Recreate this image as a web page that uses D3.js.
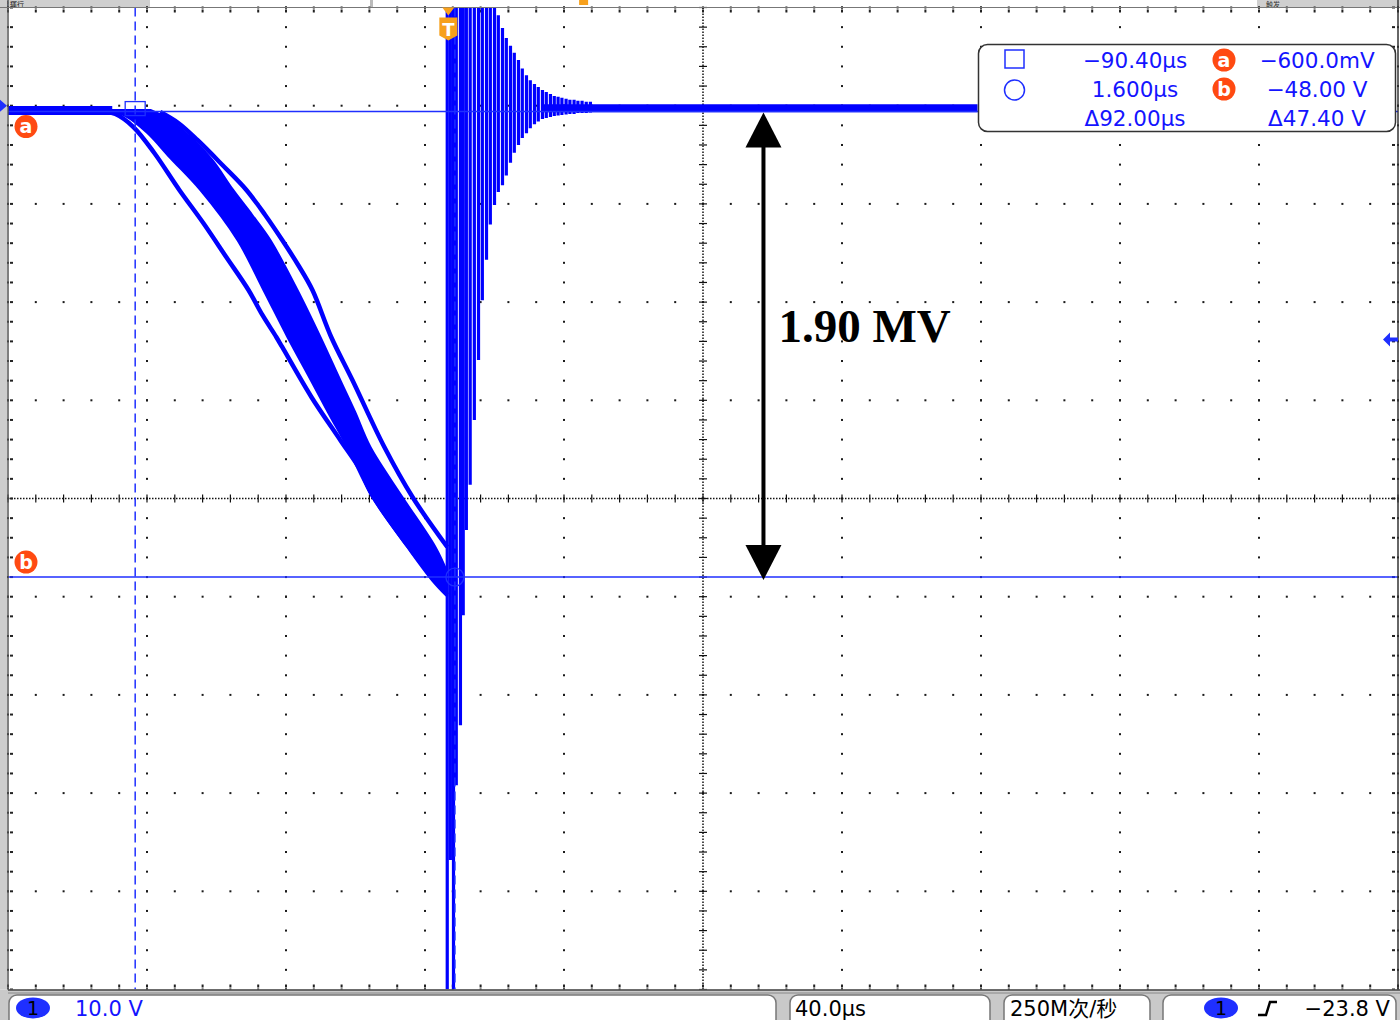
<!DOCTYPE html>
<html><head><meta charset="utf-8">
<script src="https://cdn.jsdelivr.net/npm/d3@7"></script>
<style>html,body{margin:0;padding:0;background:#fff;overflow:hidden}svg{display:block}</style>
</head><body>
<svg id="c" width="1400" height="1020"></svg>
<script>
// ---------------- DATA ----------------
const timeDomain = [-127, 273];            // µs, 40 µs/div, 10 div
const voltDomain = [10, -90];              // V, 10 V/div, 10 div
const timeGrid = d3.range(-127, 274, 40);
const voltGrid = d3.range(10, -91, -10);
const timeMinor = d3.range(-127, 274, 8);
const voltMinor = d3.range(10, -91, -2);

const cursorTimes = [-90.4, 1.6];          // µs
const cursorVolts = [-0.6, -48.0];         // V
const triggerTime = 0;
const triggerLevel = -23.8;

// ramp traces [t(µs), V]
const outerLeft = [[-101.9,-0.44],[-96.1,-0.85],[-90.9,-2.17],[-84.9,-4.82],[-77.7,-8.58],[-70.8,-11.95],[-64.2,-15.41],[-57.8,-18.77],[-53.8,-21.31],[-49.8,-23.55],[-48.1,-24.57],[-39.7,-29.66],[-31.4,-34.04],[-25.6,-37.10],[-22.2,-39.64],[-12.1,-44.74],[-4.6,-48.30],[-0.6,-49.82]];
const bandLeft = [[-99.0,-0.44],[-93.2,-1.05],[-86.9,-2.78],[-80.3,-5.33],[-71.7,-8.58],[-61.0,-13.68],[-53.5,-18.77],[-46.6,-23.55],[-39.9,-27.93],[-34.5,-31.49],[-29.4,-34.76],[-22.2,-39.85],[-12.1,-44.94],[-4.6,-48.30],[-0.6,-49.93]];
const bandRight = [[-86.0,-0.44],[-80.3,-1.46],[-74.5,-3.19],[-68.2,-5.53],[-62.2,-8.58],[-56.7,-11.13],[-51.5,-13.68],[-43.7,-18.77],[-37.1,-23.55],[-31.4,-27.93],[-27.1,-31.19],[-22.7,-34.76],[-13.5,-39.85],[-4.0,-44.94],[-0.6,-47.48]];
const outerRight = [[-83.2,-0.64],[-78.0,-1.76],[-72.5,-3.49],[-65.3,-6.04],[-58.4,-8.58],[-53.0,-11.13],[-48.1,-13.68],[-43.5,-16.22],[-39.4,-18.77],[-34.0,-23.55],[-27.9,-27.93],[-18.7,-34.76],[-10.6,-39.85],[-0.6,-44.94]];
const preBaseline = [[-127,-0.49],[-97,-0.49]];
const postBaseline = [[27,-0.25],[152,-0.25]];

// ringing strokes after breakdown: [t(µs), top V, bottom V]
const ringing = [[-0.6,10,-90],[0.3,10,-76.8],[1.2,10,-90],[2.0,10,-69.2],[3.2,10,-63.1],[4.0,10,-51.9],[4.9,10,-43.2],[6.0,10,-38.6],[7.2,10,-32.0],[8.4,10,-25.9],[9.5,10,-19.8],[10.7,10,-15.7],[11.8,10,-12.1],[13.0,10,-10.1],[14.1,9.2,-8.8],[15.3,7.9,-8.1],[16.4,6.9,-7.1],[17.6,6.1,-5.8],[18.7,5.4,-4.8],[19.9,4.65,-4.0],[21.0,3.8,-3.3],[22.2,3.1,-2.8],[23.3,2.6,-2.3],[24.5,2.2,-1.9],[25.6,1.9,-1.6],[26.8,1.6,-1.35],[27.9,1.4,-1.25],[29.1,1.2,-1.15],[30.2,1.0,-1.05],[31.3,0.9,-1.0],[32.4,0.8,-0.95],[33.6,0.7,-0.9],[34.7,0.6,-0.85],[35.9,0.6,-0.85],[37.0,0.5,-0.75],[38.2,0.5,-0.75],[39.4,0.4,-0.75],[40.6,0.4,-0.7]];

const readoutTimes = ["\u221290.40\u00b5s", "1.600\u00b5s", "\u039492.00\u00b5s"];
const readoutVolts = ["\u2212600.0mV", "\u221248.00 V", "\u039447.40 V"];
const annotationText = "1.90 MV";
const annotationTime = 90.4;
const statusCh = "10.0 V";
const statusTime = "40.0\u00b5s";
const statusRate = "250M\u6b21/\u79d2";
const statusTrig = "\u221223.8 V";
const topLeftLabel = "R \u904b\u884c";
const topRightLabel = "\u89e6\u53d1";

// ---------------- DRAW ----------------
const svg = d3.select("#c");
const W = 1400, H = 1020;
const L = 8, R = 1398, T = 7.5, B = 989.5;
const x = d3.scaleLinear().domain(timeDomain).range([L, R]);
const y = d3.scaleLinear().domain(voltDomain).range([T, B]);
const BLUE = "#0000ff", CUR = "#1f2fff", ORANGE = "#ff4a12", TORANGE = "#f7a01c";
const FONT = "'DejaVu Sans','Noto Sans CJK SC',sans-serif";

svg.append("rect").attr("width", W).attr("height", H).attr("fill", "#fff");
// top strip
svg.append("rect").attr("x",0).attr("y",0).attr("width",150).attr("height",T).attr("fill","#cfcfcf");
svg.append("rect").attr("x",1257).attr("y",0).attr("width",143).attr("height",T).attr("fill","#cfcfcf");
svg.append("rect").attr("x",370).attr("y",0).attr("width",3).attr("height",T).attr("fill","#bbb");
svg.append("text").attr("x",4).attr("y",6.5).attr("font-family","'Noto Sans CJK TC',sans-serif").attr("font-size",7).attr("fill","#111").text(topLeftLabel);
svg.append("text").attr("x",1266).attr("y",6.5).attr("font-family","'Noto Sans CJK SC',sans-serif").attr("font-size",7).attr("fill","#333").text(topRightLabel);
svg.append("rect").attr("x",x(38.5)-4).attr("y",0).attr("width",9).attr("height",5).attr("fill",TORANGE);

// left strip
svg.append("rect").attr("x",0).attr("y",0).attr("width",L-1).attr("height",B).attr("fill","#cdcdcd");

const plot = svg.append("g");
svg.append("clipPath").attr("id","pc").append("rect").attr("x",L).attr("y",T).attr("width",R-L).attr("height",B-T);

// grid
const grid = plot.append("g").attr("fill","#1a1a1a");
timeGrid.forEach((tg,i) => {
  if (i===5) return;
  voltMinor.forEach(v => grid.append("rect").attr("x",x(tg)-1).attr("y",y(v)-1).attr("width",2).attr("height",2));
});
voltGrid.forEach((vg,i) => {
  if (i===5) return;
  timeMinor.forEach(t => grid.append("rect").attr("x",x(t)-1).attr("y",y(vg)-1).attr("width",2).attr("height",2));
});
// centre dotted lines with ticks
const cx = x(timeGrid[5]), cy = y(voltGrid[5]);
plot.append("line").attr("x1",L).attr("x2",R).attr("y1",cy).attr("y2",cy).attr("stroke","#111").attr("stroke-width",1.5).attr("stroke-dasharray","1.5,1.5");
plot.append("line").attr("x1",cx).attr("x2",cx).attr("y1",T).attr("y2",B).attr("stroke","#111").attr("stroke-width",1.5).attr("stroke-dasharray","1.5,1.5");
timeMinor.forEach(t => plot.append("line").attr("x1",x(t)).attr("x2",x(t)).attr("y1",cy-4).attr("y2",cy+4).attr("stroke","#111").attr("stroke-width",1.2));
voltMinor.forEach(v => plot.append("line").attr("x1",cx-4).attr("x2",cx+4).attr("y1",y(v)).attr("y2",y(v)).attr("stroke","#111").attr("stroke-width",1.2));
// edge ticks
timeMinor.forEach(t => {
  plot.append("rect").attr("x",x(t)-1).attr("y",T+2).attr("width",2).attr("height",3).attr("fill","#222");
  plot.append("rect").attr("x",x(t)-1).attr("y",B-5).attr("width",2).attr("height",3).attr("fill","#222");
});
voltMinor.forEach(v => {
  plot.append("rect").attr("x",L+2).attr("y",y(v)-1).attr("width",3).attr("height",2).attr("fill","#222");
  plot.append("rect").attr("x",R-6).attr("y",y(v)-1).attr("width",3).attr("height",2).attr("fill","#222");
});
// borders
svg.append("line").attr("x1",L).attr("x2",L).attr("y1",0).attr("y2",B+2).attr("stroke","#555").attr("stroke-width",1.5);
svg.append("line").attr("x1",0).attr("x2",W).attr("y1",T).attr("y2",T).attr("stroke","#777").attr("stroke-width",1.2);
svg.append("line").attr("x1",R).attr("x2",R).attr("y1",0).attr("y2",B).attr("stroke","#333").attr("stroke-width",1.5);

// traces
const tr = plot.append("g").attr("clip-path","url(#pc)");
const line = d3.line().x(d => x(d[0])).y(d => y(d[1])).curve(d3.curveCatmullRom.alpha(0.5));
const lin = d3.line().x(d => x(d[0])).y(d => y(d[1]));
const leftPath = line(bandLeft);
const rightPath = line(bandRight.slice().reverse());
tr.append("path").attr("d", leftPath + "L" + rightPath.slice(1) + "Z").attr("fill",BLUE).attr("stroke",BLUE).attr("stroke-width",2).attr("stroke-linejoin","round");
tr.append("path").attr("d", line(outerLeft)).attr("fill","none").attr("stroke",BLUE).attr("stroke-width",4.5);
tr.append("path").attr("d", line(outerRight)).attr("fill","none").attr("stroke",BLUE).attr("stroke-width",4.5);
tr.append("path").attr("d", lin(preBaseline)).attr("stroke",BLUE).attr("stroke-width",9);
tr.append("path").attr("d", lin(postBaseline)).attr("stroke",BLUE).attr("stroke-width",8);
tr.selectAll("line.ring").data(ringing).join("line").attr("class","ring")
  .attr("x1",d=>x(d[0])).attr("x2",d=>x(d[0])).attr("y1",d=>y(d[1])).attr("y2",d=>y(d[2]))
  .attr("stroke",BLUE).attr("stroke-width",3.2);

// cursors
const cg = plot.append("g").attr("clip-path","url(#pc)");
cursorTimes.forEach(t => cg.append("line").attr("x1",x(t)).attr("x2",x(t)).attr("y1",T).attr("y2",B).attr("stroke",CUR).attr("stroke-width",1.5).attr("stroke-dasharray","9,5"));
cursorVolts.forEach(v => cg.append("line").attr("x1",L).attr("x2",R).attr("y1",y(v)).attr("y2",y(v)).attr("stroke",CUR).attr("stroke-width",1.5));
cg.append("rect").attr("x",x(cursorTimes[0])-10).attr("y",y(cursorVolts[0])-10).attr("width",20).attr("height",14).attr("fill","none").attr("stroke",CUR).attr("stroke-width",1.3);
cg.append("circle").attr("cx",x(cursorTimes[1])).attr("cy",y(cursorVolts[1])).attr("r",9).attr("fill","none").attr("stroke",CUR).attr("stroke-width",1.3);

// a / b labels
[["a",cursorVolts[0],15],["b",cursorVolts[1],-15]].forEach(([lab,v,dy]) => {
  const g = svg.append("g").attr("transform",`translate(26,${y(v)+dy})`);
  g.append("circle").attr("r",11.5).attr("fill",ORANGE);
  g.append("text").attr("text-anchor","middle").attr("y",6.5).attr("fill","#fff").attr("font-family",FONT).attr("font-weight","bold").attr("font-size",19).text(lab);
});

// trigger T marker
const tx = x(triggerTime)-1;
svg.append("path").attr("d",`M${tx-6},${T}L${tx+6},${T}L${tx},${T+8}Z`).attr("fill",TORANGE);
svg.append("path").attr("d",`M${tx-9},${T+10}L${tx+9},${T+10}L${tx+9},${T+28}L${tx},${T+33}L${tx-9},${T+28}Z`).attr("fill",TORANGE);
svg.append("text").attr("x",tx).attr("y",T+28).attr("text-anchor","middle").attr("fill","#fff").attr("font-family",FONT).attr("font-weight","bold").attr("font-size",18).text("T");

// trigger level arrow (right)
const ty = y(triggerLevel);
svg.append("path").attr("d",`M${R-15},${ty}L${R-8},${ty-7}L${R-8},${ty-2}L${R},${ty-2}L${R},${ty+2}L${R-8},${ty+2}L${R-8},${ty+7}Z`).attr("fill",CUR);
// ground marker (left)
const gy = y(0);
svg.append("path").attr("d",`M0,${gy-6}L7,${gy}L0,${gy+6}Z`).attr("fill",CUR);

// readout box
const box = svg.append("g");
box.append("rect").attr("x",978.5).attr("y",44.5).attr("width",417).attr("height",87).attr("rx",9).attr("fill","#fff").attr("stroke","#333").attr("stroke-width",1.5);
box.append("rect").attr("x",1005).attr("y",50).attr("width",19).attr("height",18).attr("fill","none").attr("stroke",CUR).attr("stroke-width",1.5);
box.append("circle").attr("cx",1014.5).attr("cy",90).attr("r",10).attr("fill","none").attr("stroke",CUR).attr("stroke-width",1.5);
readoutTimes.forEach((s,i) => box.append("text").attr("x",1135).attr("y",68+i*28.8).attr("text-anchor","middle").attr("fill","#1414ff").attr("font-family",FONT).attr("font-size",21.5).text(s));
readoutVolts.forEach((s,i) => box.append("text").attr("x",1317).attr("y",68+i*28.8).attr("text-anchor","middle").attr("fill","#1414ff").attr("font-family",FONT).attr("font-size",21.5).text(s));
[["a",60],["b",89]].forEach(([lab,cyy]) => {
  box.append("circle").attr("cx",1224).attr("cy",cyy).attr("r",11.5).attr("fill",ORANGE);
  box.append("text").attr("x",1224).attr("y",cyy+6.5).attr("text-anchor","middle").attr("fill","#fff").attr("font-family",FONT).attr("font-weight","bold").attr("font-size",19).text(lab);
});

// annotation arrow
const ax = x(annotationTime), ay1 = y(cursorVolts[0]), ay2 = y(cursorVolts[1]);
const ann = svg.append("g");
ann.append("line").attr("x1",ax).attr("x2",ax).attr("y1",ay1+30).attr("y2",ay2-30).attr("stroke","#000").attr("stroke-width",4);
ann.append("path").attr("d",`M${ax},${ay1+1}L${ax+18},${ay1+36}L${ax-18},${ay1+36}Z`).attr("fill","#000");
ann.append("path").attr("d",`M${ax},${ay2+3}L${ax+18},${ay2-32}L${ax-18},${ay2-32}Z`).attr("fill","#000");
ann.append("text").attr("x",ax+15).attr("y",342).attr("font-family","'Liberation Serif','Times New Roman',serif").attr("font-weight","bold").attr("font-size",47).attr("fill","#000").text(annotationText);

// status bar
const sb = svg.append("g");
sb.append("rect").attr("x",0).attr("y",B).attr("width",W).attr("height",H-B).attr("fill","#c9c9c9");
sb.append("line").attr("x1",L).attr("x2",W).attr("y1",B+0.5).attr("y2",B+0.5).attr("stroke","#444").attr("stroke-width",1.5);
sb.append("line").attr("x1",L).attr("x2",W).attr("y1",B+3.5).attr("y2",B+3.5).attr("stroke","#888").attr("stroke-width",1);
[[9,776],[790,990],[1004,1150],[1163,1396]].forEach(([a,b]) => {
  sb.append("rect").attr("x",a).attr("y",995).attr("width",b-a).attr("height",40).attr("rx",8).attr("fill","#fff").attr("stroke","#777").attr("stroke-width",1.5);
});
sb.append("ellipse").attr("cx",33).attr("cy",1008).attr("rx",17).attr("ry",10.5).attr("fill",CUR);
sb.append("text").attr("x",33).attr("y",1015).attr("text-anchor","middle").attr("font-family",FONT).attr("font-size",19).attr("fill","#000").text("1");
sb.append("text").attr("x",75).attr("y",1016).attr("font-family",FONT).attr("font-size",21).attr("fill","#1414ff").text(statusCh);
sb.append("text").attr("x",795).attr("y",1016).attr("font-family",FONT).attr("font-size",21).attr("fill","#000").text(statusTime);
sb.append("text").attr("x",1010).attr("y",1016).attr("font-family",FONT).attr("font-size",21).attr("fill","#000").text(statusRate);
sb.append("ellipse").attr("cx",1221).attr("cy",1008).attr("rx",17).attr("ry",10.5).attr("fill",CUR);
sb.append("text").attr("x",1221).attr("y",1015).attr("text-anchor","middle").attr("font-family",FONT).attr("font-size",19).attr("fill","#000").text("1");
sb.append("path").attr("d","M1258,1015 L1266,1015 L1270,1002 L1277,1002").attr("fill","none").attr("stroke","#000").attr("stroke-width",2.5);
sb.append("text").attr("x",1390).attr("y",1016).attr("text-anchor","end").attr("font-family",FONT).attr("font-size",21).attr("fill","#000").text(statusTrig);
</script>
</body></html>
